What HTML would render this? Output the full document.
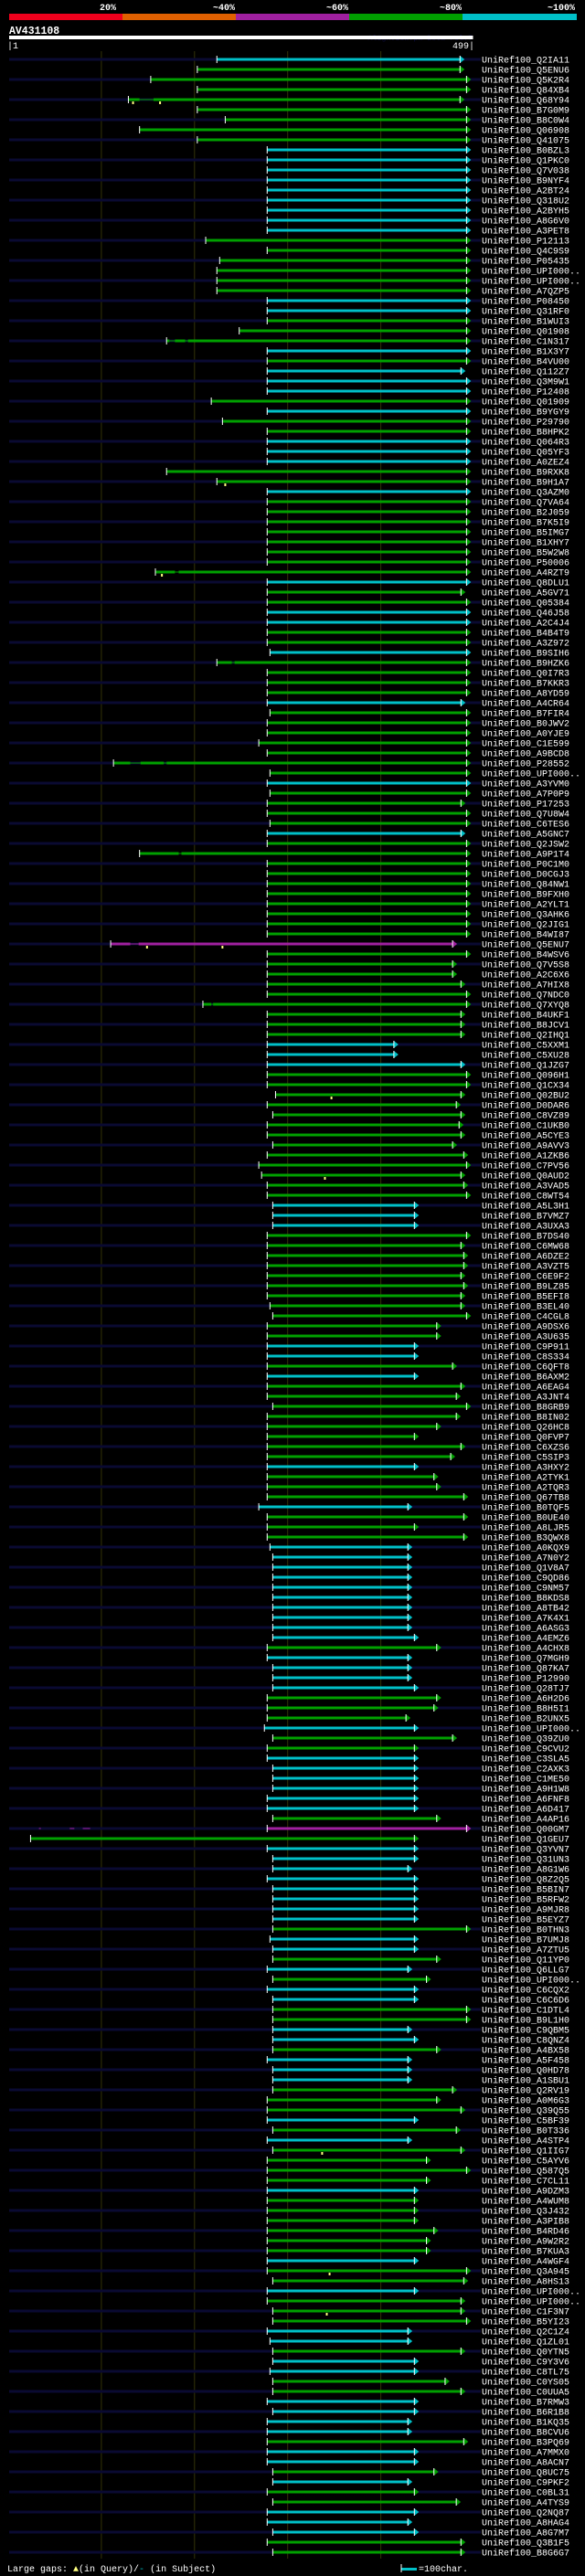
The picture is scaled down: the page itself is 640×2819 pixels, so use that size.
<!DOCTYPE html>
<html><head><meta charset="utf-8"><style>
html,body{margin:0;padding:0;background:#000;}
svg{display:block;}
text{font-family:"Liberation Mono",monospace;}
</style></head><body>
<svg id="chart" width="640" height="2819" viewBox="0 0 640 2819" xmlns="http://www.w3.org/2000/svg">
<rect x="0" y="0" width="640" height="2819" fill="#000"/>
<g>
<rect x="10" y="15" width="124" height="7" fill="#f0001c"/>
<rect x="134" y="15" width="124" height="7" fill="#e06000"/>
<rect x="258" y="15" width="124" height="7" fill="#a020a0"/>
<rect x="382" y="15" width="124" height="7" fill="#00a000"/>
<rect x="506" y="15" width="125" height="7" fill="#00c0c8"/>
<text x="127" y="11" fill="#fff" font-size="10" font-weight="bold" text-anchor="end">20%</text>
<text x="257" y="11" fill="#fff" font-size="10" font-weight="bold" text-anchor="end">~40%</text>
<text x="381" y="11" fill="#fff" font-size="10" font-weight="bold" text-anchor="end">~60%</text>
<text x="505" y="11" fill="#fff" font-size="10" font-weight="bold" text-anchor="end">~80%</text>
<text x="629" y="11" fill="#fff" font-size="10" font-weight="bold" text-anchor="end">~100%</text>
</g>
<text x="10" y="37" fill="#fff" font-size="11.5" font-weight="bold">AV431108</text>
<text x="517" y="44" fill="#0a0a3a" font-size="8.3" text-anchor="end">AlignView.pm Beta rel.7</text>
<rect x="10" y="39" width="507.5" height="4" fill="#fff"/>
<text x="8" y="53" fill="#fff" font-size="10">|1</text>
<text x="519" y="53" fill="#fff" font-size="10" text-anchor="end">499|</text>
<g id="grid"></g>
<g id="rows"></g>
<g>
<text x="8" y="2814" fill="#fff" font-size="10">Large gaps: <tspan fill="#ffff80">▲</tspan>(in Query)/<tspan fill="#00c0c8">-</tspan> (in Subject)</text>
<rect x="439" y="2810" width="17" height="3" fill="#00c0c8"/>
<rect x="438.5" y="2806" width="1" height="9" fill="#fff"/>
<text x="458" y="2814" fill="#fff" font-size="10">=100char.</text>
</g>
</svg>
<script>
const gridTicks = [100, 200, 300, 400];
const names = ["Q2IA11","Q5ENU6","Q5K2R4","Q84XB4","Q68Y94","B7G0M9","B8C0W4","Q06908","Q41075","B0BZL3","Q1PKC0","Q7V038","B9NYF4","A2BT24","Q318U2","A2BYH5","A8G6V0","A3PET8","P12113","Q4C9S9","P05435","UPI000..","UPI000..","A7QZP5","P08450","Q31RF0","B1WUI3","Q01908","C1N317","B1X3Y7","B4VU00","Q112Z7","Q3M9W1","P12408","Q01909","B9YGY9","P29790","B8HPK2","Q064R3","Q05YF3","A0ZEZ4","B9RXK8","B9H1A7","Q3AZM0","Q7VA64","B2J059","B7K5I9","B5IMG7","B1XHY7","B5W2W8","P50006","A4RZT9","Q8DLU1","A5GV71","Q05384","Q46J58","A2C4J4","B4B4T9","A3Z972","B9SIH6","B9HZK6","Q0I7R3","B7KKR3","A8YD59","A4CR64","B7FIR4","B0JWV2","A0YJE9","C1E599","A9BCD8","P28552","UPI000..","A3YVM0","A7P0P9","P17253","Q7U8W4","C6TES6","A5GNC7","Q2JSW2","A9P1T4","P0C1M0","D0CGJ3","Q84NW1","B9FXH0","A2YLT1","Q3AHK6","Q2JIG1","B4WI87","Q5ENU7","B4WSV6","Q7V5S8","A2C6X6","A7HIX8","Q7NDC0","Q7XYQ8","B4UKF1","B8JCV1","Q2IHQ1","C5XXM1","C5XU28","Q1JZG7","Q096H1","Q1CX34","Q02BU2","D0DAR6","C8VZ89","C1UKB0","A5CYE3","A9AVV3","A1ZKB6","C7PV56","Q0AUD2","A3VAD5","C8WT54","A5L3H1","B7VMZ7","A3UXA3","B7DS40","C6MW68","A6DZE2","A3VZT5","C6E9F2","B9LZ85","B5EFI8","B3EL40","C4CGL8","A9DSX6","A3U635","C9P911","C8S334","C6QFT8","B6AXM2","A6EAG4","A3JNT4","B8GRB9","B8IN02","Q26HC8","Q0FVP7","C6XZS6","C5SIP3","A3HXY2","A2TYK1","A2TQR3","Q67TB8","B0TQF5","B0UE40","A8LJR5","B3QWX8","A0KQX9","A7N0Y2","Q1V8A7","C9QD86","C9NM57","B8KDS8","A8TB42","A7K4X1","A6ASG3","A4EMZ6","A4CHX8","Q7MGH9","Q87KA7","P12990","Q28TJ7","A6H2D6","B8H5I1","B2UNX5","UPI000..","Q39ZU0","C9CVU2","C3SLA5","C2AXK3","C1ME50","A9H1W8","A6FNF8","A6D417","A4AP16","Q00GM7","Q1GEU7","Q3YVN7","Q31UN3","A8G1W6","Q8Z2Q5","B5BIN7","B5RFW2","A9MJR8","B5EYZ7","B0THN3","B7UMJ8","A7ZTU5","Q11YP0","Q6LLG7","UPI000..","C6CQX2","C6C6D6","C1DTL4","B9L1H0","C9QBM5","C8QNZ4","A4BX58","A5F458","Q0HD78","A1SBU1","Q2RV19","A0M6G3","Q39Q55","C5BF39","B0T336","A4STP4","Q1IIG7","C5AYV6","Q587Q5","C7CL11","A9DZM3","A4WUM8","Q3J432","A3PIB8","B4RD46","A9W2R2","B7KUA3","A4WGF4","Q3A945","A8HS13","UPI000..","UPI000..","C1F3N7","B5YI23","Q2C1Z4","Q1ZL01","Q0YTN5","C9Y3V6","C8TL75","C0YS05","C0UUA5","B7RMW3","B6R1B8","B1KQ35","B8CVU6","B3PQ69","A7MMX0","A8ACN7","Q8UC75","C9PKF2","C0BL31","A4TYS9","Q2NQ87","A8HAG4","A8G7M7","Q3B1F5","B8G6G7"];
const starts = [224,203,153,203,129,203,233,141,203,278,278,278,278,278,278,278,278,278,212,278,227,224,224,224,278,278,278,248,170,278,278,278,278,278,218,278,230,278,278,278,278,170,224,278,278,278,278,278,278,278,278,158,278,278,278,278,278,278,278,281,224,278,278,278,278,281,278,278,269,278,113,281,278,281,278,278,281,278,278,141,278,278,278,278,278,278,278,278,110,278,278,278,278,278,209,278,278,278,278,278,278,278,278,287,278,284,278,278,284,278,269,272,278,278,284,284,284,278,278,278,278,278,278,278,281,284,278,278,278,278,278,278,278,278,284,278,278,278,278,278,278,278,278,278,269,278,278,278,281,284,284,284,284,284,284,284,284,284,278,278,284,284,284,278,278,278,275,284,278,278,284,284,284,278,278,284,278,24,278,284,284,278,284,284,284,284,284,281,284,284,278,284,278,284,284,284,284,284,284,278,284,284,284,278,278,278,284,278,284,278,278,278,278,278,278,278,278,278,278,278,278,284,278,278,284,284,278,281,284,284,281,284,284,278,284,278,278,278,278,278,284,284,278,284,278,278,284,278,284,281,284];
const ends = [485,485,492,492,485,492,492,492,492,492,492,492,492,492,492,492,492,492,492,492,492,492,492,492,492,492,492,492,492,492,492,486,492,492,492,492,492,492,492,492,492,492,492,492,492,492,492,492,492,492,492,492,492,486,492,492,492,492,492,492,492,492,492,492,486,492,492,492,492,492,492,492,492,492,486,492,492,486,492,492,492,492,492,492,492,492,492,492,477,492,477,477,486,492,492,486,486,486,414,414,486,492,492,486,481,486,484,486,477,489,492,486,489,492,436,436,436,492,486,489,489,486,489,486,486,492,460,460,436,436,477,436,486,481,492,481,460,436,486,475,436,457,460,489,429,489,436,489,429,429,429,429,429,429,429,429,429,436,460,429,429,429,436,460,457,427,436,477,436,436,436,436,436,436,436,460,492,436,436,436,429,436,436,436,436,436,492,436,436,460,429,449,436,436,492,492,429,436,460,429,429,429,477,460,486,436,481,429,486,449,492,449,436,436,436,436,457,449,449,436,492,489,436,486,486,492,429,429,486,436,436,469,486,436,436,429,429,489,436,436,457,429,436,481,436,429,436,486,486];
const colors = "c"+"gggggggg"+"ccccccccc"+"gggggg"+"cc"+"ggg"+"cgccc"+"gcggcccggc"+"gggggggg"+"cggccggc"+"gggg"+"c"+"ggggggg"+"cggggc"+"gggggggggg"+"m"+"ggggggggg"+"ccc"+"ggggggggggggg"+"ccc"+"ggggggggggg"+"ccgc"+"gggggggg"+"cgggcggg"+"cccccccccc"+"g"+"cccc"+"gggcgg"+"cccccc"+"gmg"+"cccccccc"+"gccgcgccggccgcccgggcgc"+"gggg"+"cggggggcggc"+"ggg"+"ccgccgg"+"cccc"+"gccgcggcccgg";
const gapRow = [4,28,28,51,60,70,70,79,88,94,176,176,176];
const gapFrom = [141,173,190,179,240,131,167,183,131,218,33,66,80];
const gapTo = [156,179,193,183,243,142,170,186,140,220,35,71,88];
const insRow = [4,4,42,51,88,88,103,111,208,220,224];
const insPos = [134,163,233,165,149,230,347,340,337,345,342];

const NS = "http://www.w3.org/2000/svg";
function x(r){ return 10 + (r - 1) * 507.5 / 498; }
function y(i){ return 65 + i * 11; }
const colorMap = {c:"#00c0c8", g:"#00a000", m:"#a020a0", o:"#e06000", r:"#f0001c"};
function mk(tag, attrs, parent){
  const el = document.createElementNS(NS, tag);
  for (const k in attrs) el.setAttribute(k, attrs[k]);
  parent.appendChild(el);
  return el;
}
const grid = document.getElementById("grid");
gridTicks.forEach(t => {
  const l = mk("line", {x1:x(t), x2:x(t), y1:56, y2:2800, stroke:"#333308", "stroke-width":1}, grid);
  
  
});
const rows = document.getElementById("rows");
names.forEach((n, i) => {
  const g = mk("g", {}, rows);
  
  
  const cy = y(i);
  if (i % 2 === 0) {
    const bg = mk("rect", {x:10, y:cy-1.5, width:516, height:3, fill:"#0a0a32"}, g);
    
    
  }
  const col = colorMap[colors[i]] || "#00a000";
  const x0 = x(starts[i]), x1 = x(ends[i]);
  const bar = mk("rect", {x:x0, y:cy-1.5, width:x1-x0, height:3, fill:col}, g);
  
  
  const tk = mk("rect", {x:x0-0.5, y:cy-4, width:1, height:8, fill:"#fff"}, g);
  
  
  const ar = mk("polygon", {points:`${x1},${cy-4} ${x1+5},${cy} ${x1},${cy+4}`, fill:col}, g);
  
  
  const ek = mk("rect", {x:x1-0.5, y:cy-4, width:1, height:8, fill:"#fff"}, g);
  
  
  const t = mk("text", {x:527, y:cy+3.5, fill:"#fff", "font-size":10}, g);
  
  
  t.textContent = "UniRef100_" + n;
});
gapRow.forEach((ri, k) => {
  const cy = y(ri);
  const a = x(gapFrom[k]), b = x(gapTo[k]);
  const gp = mk("rect", {x:a, y:cy-1.5, width:b-a, height:3, fill:(ri%2===0?"#0a0a32":"#000")}, rows);
  
  
  const gl = mk("rect", {x:a, y:cy-0.5, width:b-a, height:1, fill:colorMap[colors[ri]] || "#00a000"}, rows);
  
  
});
insRow.forEach((ri, k) => {
  const cy = y(ri);
  const m = mk("rect", {x:x(insPos[k])-1, y:cy+2, width:2, height:3, fill:"#ffff80"}, rows);
  
  
});
</script>
</body></html>
